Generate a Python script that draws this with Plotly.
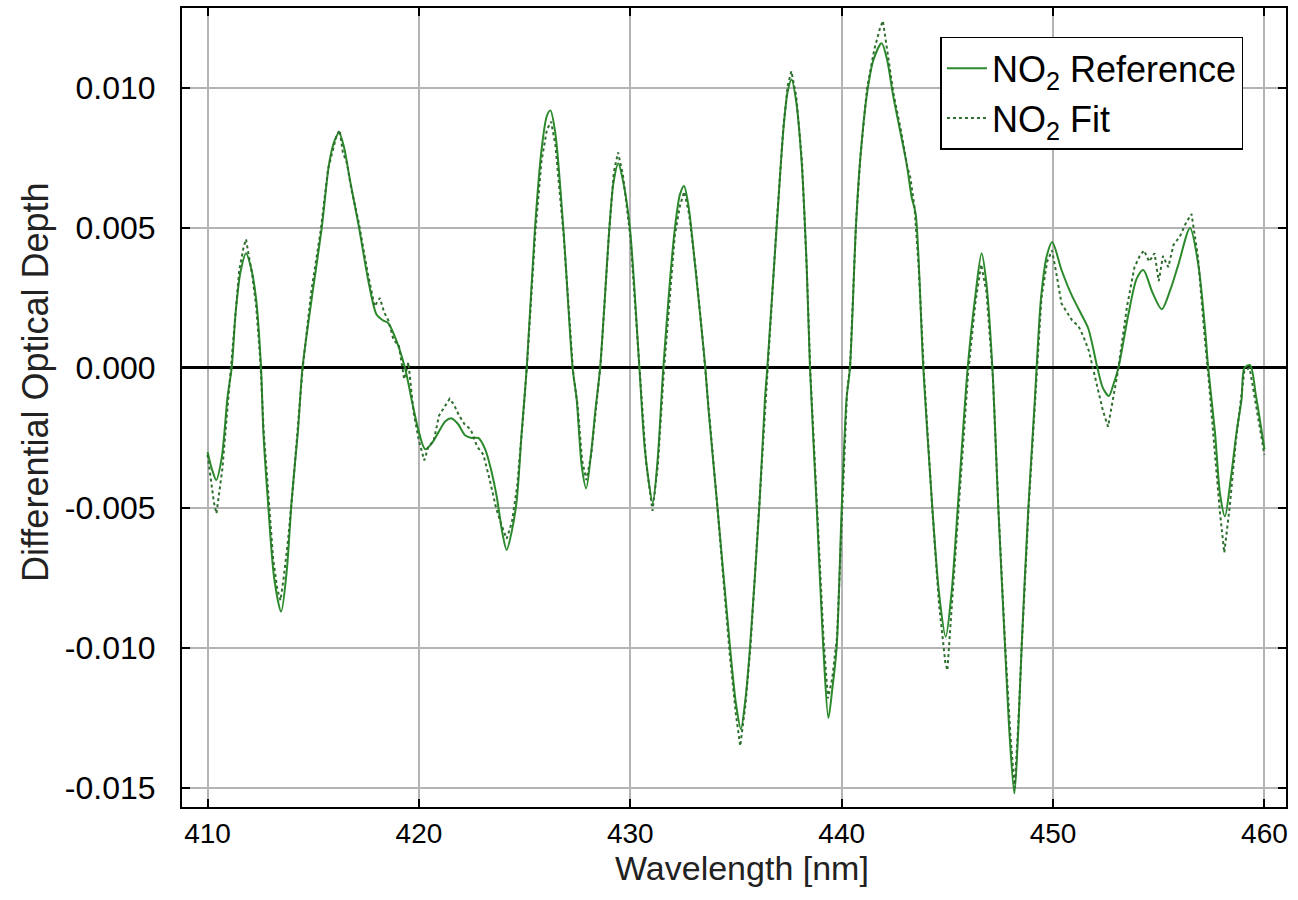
import plotly.graph_objects as go

# ---------------- data ----------------
ref_wl = [410.00, 410.20, 410.41, 410.67, 410.95, 411.14, 411.33, 411.55, 411.82, 412.05,
          412.29, 412.53, 412.64, 412.85, 413.15, 413.48, 413.75, 413.98, 414.27, 414.49,
          414.93, 415.40, 415.75, 416.00, 416.22, 416.45, 416.74, 417.17, 417.61, 418.00,
          418.30, 418.55, 418.87, 419.34, 419.70, 419.97, 420.29, 420.60, 420.92, 421.25,
          421.55, 421.85, 422.18, 422.50, 422.81, 423.13, 423.40, 423.68, 423.95, 424.15,
          424.40, 424.63, 424.86, 425.10, 425.49, 425.80, 426.05, 426.22, 426.45, 426.83,
          427.27, 427.46, 427.70, 427.91, 428.15, 428.35, 428.57, 429.01, 429.20, 429.43,
          429.65, 429.98, 430.43, 430.70, 431.06, 431.30, 431.56, 432.11, 432.35, 432.54,
          432.75, 433.06, 433.37, 433.55, 433.70, 434.09, 434.72, 435.00, 435.23, 435.45,
          435.66, 436.10, 436.37, 436.48, 436.92, 437.24, 437.45, 437.63, 437.85, 438.11,
          438.34, 438.50, 438.82, 439.13, 439.37, 439.55, 439.76, 440.00, 440.23, 440.39,
          440.67, 440.86, 441.18, 441.50, 441.89, 442.15, 442.44, 443.07, 443.31, 443.50,
          443.86, 444.29, 444.60, 444.92, 445.20, 445.49, 445.96, 446.31, 446.62, 446.85,
          447.13, 447.41, 447.73, 447.95, 448.17, 448.35, 448.51, 448.83, 449.14, 449.22,
          449.43, 449.70, 449.96, 450.40, 450.88, 451.35, 451.67, 452.10, 452.35, 452.64,
          452.85, 453.09, 453.56, 453.96, 454.27, 454.70, 455.14, 455.55, 455.93, 456.48,
          456.87, 457.19, 457.34, 457.66, 457.90, 458.13, 458.40, 458.68, 458.92, 459.05,
          459.32, 459.60, 460.00]
ref_od = [-0.0030, -0.0036, -0.0040, -0.0032, -0.0010, 0.0000, 0.0020, 0.0034, 0.0041, 0.0036,
          0.0025, 0.0000, -0.0023, -0.0047, -0.0075, -0.0087, -0.0072, -0.0047, -0.0023, 0.0000,
          0.0025, 0.0050, 0.0073, 0.0081, 0.0084, 0.0079, 0.0067, 0.0050, 0.0031, 0.0019,
          0.0017, 0.0016, 0.0011, 0.0000, -0.0013, -0.0022, -0.0029, -0.0027, -0.0023, -0.0019,
          -0.0018, -0.0020, -0.0024, -0.0025, -0.0025, -0.0029, -0.0036, -0.0046, -0.0059, -0.0065,
          -0.0058, -0.0047, -0.0023, 0.0000, 0.0050, 0.0078, 0.0090, 0.0092, 0.0084, 0.0050,
          0.0000, -0.0011, -0.0035, -0.0043, -0.0030, -0.0015, 0.0000, 0.0050, 0.0066, 0.0073,
          0.0067, 0.0050, 0.0000, -0.0030, -0.0048, -0.0032, 0.0000, 0.0050, 0.0062, 0.0065,
          0.0058, 0.0037, 0.0014, 0.0000, -0.0015, -0.0047, -0.0100, -0.0120, -0.0129, -0.0118,
          -0.0100, -0.0050, -0.0011, 0.0000, 0.0050, 0.0085, 0.0099, 0.0103, 0.0095, 0.0073,
          0.0037, 0.0000, -0.0050, -0.0100, -0.0125, -0.0115, -0.0100, -0.0050, -0.0011, 0.0000,
          0.0050, 0.0073, 0.0097, 0.0110, 0.0116, 0.0110, 0.0097, 0.0073, 0.0061, 0.0055,
          0.0000, -0.0050, -0.0080, -0.0096, -0.0080, -0.0050, 0.0000, 0.0025, 0.0041, 0.0030,
          0.0000, -0.0050, -0.0100, -0.0132, -0.0152, -0.0130, -0.0100, -0.0050, -0.0011, 0.0000,
          0.0025, 0.0040, 0.0045, 0.0035, 0.0026, 0.0019, 0.0014, 0.0000, -0.0007, -0.0010,
          -0.0006, 0.0000, 0.0019, 0.0032, 0.0035, 0.0027, 0.0021, 0.0028, 0.0037, 0.0050,
          0.0037, 0.0014, 0.0000, -0.0023, -0.0045, -0.0053, -0.0040, -0.0023, -0.0011, 0.0000,
          0.0001, -0.0010, -0.0029]

fit_wl = [410.00, 410.15, 410.30, 410.42, 410.55, 410.70, 410.90, 411.10, 411.30, 411.50,
          411.70, 411.82, 411.95, 412.10, 412.30, 412.50, 412.65, 412.85, 413.10, 413.30,
          413.45, 413.60, 413.80, 414.00, 414.25, 414.50, 414.90, 415.35, 415.70, 415.95,
          416.10, 416.25, 416.40, 416.60, 416.80, 417.15, 417.55, 417.90, 418.15, 418.35,
          418.55, 418.80, 419.05, 419.30, 419.50, 419.75, 420.00, 420.25, 420.45, 420.70,
          420.95, 421.20, 421.45, 421.65, 421.90, 422.15, 422.45, 422.75, 423.05, 423.35,
          423.65, 423.90, 424.15, 424.40, 424.65, 424.90, 425.12, 425.50, 425.80, 426.05,
          426.25, 426.45, 426.85, 427.30, 427.50, 427.72, 427.92, 428.15, 428.38, 428.60,
          429.00, 429.22, 429.42, 429.65, 430.00, 430.45, 430.75, 431.05, 431.30, 431.58,
          432.10, 432.35, 432.55, 432.78, 433.10, 433.40, 433.58, 433.75, 434.10, 434.70,
          435.00, 435.20, 435.45, 435.68, 436.10, 436.40, 436.50, 436.92, 437.24, 437.45,
          437.62, 437.85, 438.12, 438.35, 438.52, 438.85, 439.15, 439.35, 439.55, 439.78,
          440.02, 440.25, 440.40, 440.68, 440.88, 441.20, 441.55, 441.80, 441.95, 442.15,
          442.45, 442.80, 443.10, 443.25, 443.45, 443.65, 443.90, 444.30, 444.60, 444.90,
          445.00, 445.20, 445.50, 445.98, 446.32, 446.60, 446.85, 447.15, 447.42, 447.74,
          447.98, 448.18, 448.35, 448.52, 448.85, 449.15, 449.25, 449.45, 449.72, 449.95,
          450.15, 450.40, 450.65, 450.90, 451.20, 451.45, 451.70, 452.05, 452.35, 452.60,
          452.80, 453.05, 453.50, 453.85, 454.10, 454.30, 454.55, 454.80, 455.00, 455.20,
          455.45, 455.70, 456.00, 456.30, 456.55, 456.85, 457.15, 457.35, 457.65, 457.90,
          458.10, 458.35, 458.65, 458.90, 459.05, 459.30, 459.60, 460.00]
fit_od = [-0.0031, -0.0040, -0.0048, -0.0052, -0.0044, -0.0036, -0.0018, 0.0000, 0.0019, 0.0035,
          0.0043, 0.0046, 0.0040, 0.0034, 0.0022, 0.0002, -0.0022, -0.0044, -0.0068, -0.0079,
          -0.0083, -0.0075, -0.0062, -0.0046, -0.0024, 0.0000, 0.0027, 0.0049, 0.0071, 0.0078,
          0.0083, 0.0085, 0.0077, 0.0073, 0.0064, 0.0052, 0.0035, 0.0022, 0.0025, 0.0020,
          0.0017, 0.0010, 0.0008, -0.0004, 0.0002, -0.0016, -0.0026, -0.0033, -0.0028, -0.0026,
          -0.0017, -0.0014, -0.0011, -0.0013, -0.0017, -0.0020, -0.0022, -0.0028, -0.0031, -0.0040,
          -0.0050, -0.0056, -0.0061, -0.0055, -0.0042, -0.0020, 0.0002, 0.0048, 0.0074, 0.0085,
          0.0088, 0.0080, 0.0047, -0.0002, -0.0013, -0.0033, -0.0040, -0.0031, -0.0013, 0.0002,
          0.0049, 0.0070, 0.0077, 0.0069, 0.0047, -0.0002, -0.0034, -0.0051, -0.0035, -0.0002,
          0.0047, 0.0058, 0.0063, 0.0055, 0.0035, 0.0012, -0.0003, -0.0018, -0.0048, -0.0102,
          -0.0124, -0.0135, -0.0120, -0.0100, -0.0049, -0.0010, 0.0001, 0.0051, 0.0086, 0.0101,
          0.0106, 0.0097, 0.0074, 0.0035, -0.0002, -0.0052, -0.0098, -0.0118, -0.0111, -0.0096,
          -0.0048, -0.0009, 0.0001, 0.0052, 0.0075, 0.0100, 0.0114, 0.0121, 0.0124, 0.0114,
          0.0098, 0.0085, 0.0072, 0.0068, 0.0057, 0.0035, -0.0003, -0.0052, -0.0084, -0.0105,
          -0.0108, -0.0086, -0.0054, -0.0002, 0.0023, 0.0037, 0.0027, -0.0003, -0.0051, -0.0100,
          -0.0131, -0.0150, -0.0128, -0.0099, -0.0049, -0.0010, 0.0002, 0.0025, 0.0038, 0.0042,
          0.0034, 0.0023, 0.0020, 0.0017, 0.0015, 0.0011, 0.0006, -0.0005, -0.0015, -0.0021,
          -0.0012, -0.0002, 0.0022, 0.0036, 0.0040, 0.0042, 0.0038, 0.0041, 0.0031, 0.0040,
          0.0036, 0.0044, 0.0047, 0.0052, 0.0055, 0.0040, 0.0013, -0.0003, -0.0030, -0.0052,
          -0.0066, -0.0050, -0.0026, -0.0010, -0.0001, 0.0000, -0.0013, -0.0031]

x_ticks = [410, 420, 430, 440, 450, 460]
x_ticktext = ["410", "420", "430", "440", "450", "460"]
y_ticks = [-0.015, -0.010, -0.005, 0.000, 0.005, 0.010]
y_ticktext = ["-0.015", "-0.010", "-0.005", "0.000", "0.005", "0.010"]

FONT = "Liberation Sans, Arial, sans-serif"

fig = go.Figure()
fig.add_trace(go.Scatter(
    x=ref_wl, y=ref_od, mode="lines", name="NO<sub>2</sub> Reference",
    line=dict(color="#2b8a2b", width=2, shape="spline", smoothing=0.8)))
fig.add_trace(go.Scatter(
    x=fit_wl, y=fit_od, mode="lines", name="NO<sub>2</sub> Fit",
    line=dict(color="#2e6e2e", width=2, dash="dot")))

axis_common = dict(
    showline=True, linecolor="black", linewidth=2, mirror="ticks",
    ticks="inside", ticklen=8, tickwidth=2, tickcolor="black",
    showgrid=True, gridcolor="#b4b4b4", gridwidth=1.5,
)

fig.update_xaxes(range=[408.79, 461.02], tickvals=x_ticks, ticktext=x_ticktext,
                 zeroline=False, ticklabelstandoff=0,
                 tickfont=dict(family=FONT, size=28, color="black"), **axis_common)
fig.update_yaxes(range=[-0.015679, 0.012857], tickvals=y_ticks, ticktext=y_ticktext,
                 zeroline=True, zerolinecolor="black", zerolinewidth=2.5,
                 ticklabelstandoff=18,
                 tickfont=dict(family=FONT, size=32, color="black"), **axis_common)

fig.update_layout(
    width=1298, height=900,
    margin=dict(l=182, r=12, t=8, b=93, autoexpand=False),
    paper_bgcolor="white", plot_bgcolor="white",
    font=dict(family=FONT, color="black"),
    showlegend=True,
    legend=dict(x=0.687, y=0.964, xanchor="left", yanchor="top",
                bgcolor="white", bordercolor="black", borderwidth=1.5,
                itemwidth=40,
                font=dict(family=FONT, size=36, color="black")),
    annotations=[
        dict(text="Wavelength [nm]", xref="paper", yref="paper", x=0.5072, y=-0.0763,
             showarrow=False, xanchor="center", yanchor="middle",
             font=dict(family=FONT, size=34, color="#222222")),
        dict(text="Differential Optical Depth", xref="paper", yref="paper", x=-0.1322, y=0.532,
             showarrow=False, xanchor="center", yanchor="middle", textangle=-90,
             font=dict(family=FONT, size=36, color="#222222")),
    ],
)

fig.write_html("out.html")
